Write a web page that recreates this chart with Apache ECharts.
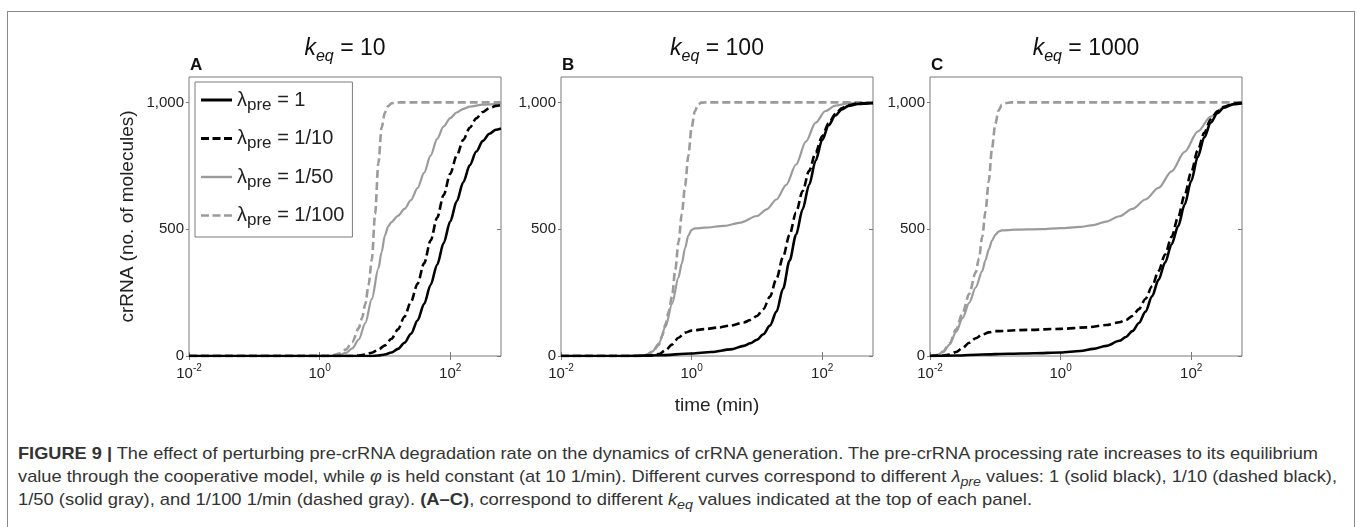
<!DOCTYPE html>
<html>
<head>
<meta charset="utf-8">
<script src="https://cdn.jsdelivr.net/npm/echarts@6/dist/echarts.min.js"></script>
<style>
html, body { margin: 0; padding: 0; background: #fff; }
.frame {
    position: absolute; left: 7px; top: 11px; width: 1348px; height: 540px;
    border: 1.5px solid #8a8a8a; box-sizing: border-box;
}
#chart { position: absolute; left: 0; top: 0; width: 1357px; height: 425px; }
.caption {
    position: absolute; left: 18px; top: 442px;
    font-family: "Liberation Sans Narrow", "Liberation Sans", Arial, sans-serif;
    font-size: 17px; line-height: 23px; color: #333;
}
.caption .ln { display: block; white-space: nowrap; transform-origin: 0 0; width: max-content; }
.caption sub { font-size: 0.78em; line-height: 0; vertical-align: -0.3em; }
</style>
</head>
<body>
<div class="frame"></div>
<div id="chart"></div>
<div class="caption">
    <div class="ln"><b>FIGURE 9 |</b> The effect of perturbing pre-crRNA degradation rate on the dynamics of crRNA generation. The pre-crRNA processing rate increases to its equilibrium</div>
    <div class="ln">value through the cooperative model, while <i>φ</i> is held constant (at 10 1/min). Different curves correspond to different <i>λ<sub>pre</sub></i> values: 1 (solid black), 1/10 (dashed black),</div>
    <div class="ln">1/50 (solid gray), and 1/100 1/min (dashed gray). <b>(A–C)</b>, correspond to different <i>k<sub>eq</sub></i> values indicated at the top of each panel.</div>
</div>

<script>
// axes
const timeTicks = [0.01, 1, 100]
const countTicks = [0, 500, 1000]
const keqLabels = ['10', '100', '1000']
const panelLetters = ['A', 'B', 'C']
const lambdaLabels = ['1', '1/10', '1/50', '1/100']

// [time (min), crRNA molecules]
// panel A, keq = 10
const a_l1 = [[0.01, 0], [6.31, 0], [7.943, 2], [10, 6], [12.59, 14], [15.85, 28], [19.95, 52], [25.12, 88], [31.62, 140], [39.81, 205], [50.12, 280], [63.1, 360], [79.43, 445], [100, 530], [125.9, 610], [158.5, 685], [199.5, 752], [251.2, 806], [316.2, 848], [398.1, 876], [501.2, 892], [600, 897]]
const a_l10 = [[0.01, 0], [3.162, 0], [3.981, 2], [5.012, 6], [6.31, 13], [7.943, 25], [10, 42], [12.59, 68], [15.85, 105], [19.95, 155], [25.12, 215], [31.62, 285], [39.81, 365], [50.12, 455], [63.1, 545], [79.43, 635], [100, 718], [125.9, 790], [158.5, 852], [199.5, 900], [251.2, 937], [316.2, 962], [398.1, 977], [501.2, 986], [600, 990]]
const a_l50 = [[0.01, 0], [1.585, 0], [1.995, 4], [2.512, 12], [3.162, 30], [3.981, 65], [5.012, 130], [6.31, 225], [7.943, 345], [8.913, 410], [10, 475], [11.22, 510], [12.59, 528], [15.85, 553], [19.95, 580], [25.12, 615], [31.62, 662], [39.81, 722], [50.12, 790], [63.1, 856], [79.43, 905], [100, 938], [125.9, 960], [158.5, 974], [199.5, 983], [316.2, 991], [600, 995]]
const a_l100 = [[0.01, 0], [1.259, 0], [1.585, 3], [1.995, 10], [2.512, 25], [3.162, 55], [3.981, 110], [4.467, 150], [5.012, 205], [5.623, 280], [6.31, 380], [7.079, 560], [7.943, 760], [8.913, 900], [10, 960], [11.22, 985], [12.59, 996], [14.13, 999], [17.78, 1000], [600, 1000]]

// panel B, keq = 100
const b_l1 = [[0.01, 0], [0.1, 0], [0.3162, 3], [1, 10], [1.995, 16], [3.981, 26], [6.31, 40], [7.943, 50], [10, 64], [12.59, 86], [15.85, 120], [19.95, 175], [25.12, 265], [31.62, 375], [39.81, 478], [50.12, 578], [63.1, 675], [79.43, 770], [100, 852], [125.9, 910], [158.5, 948], [199.5, 972], [251.2, 986], [354.8, 994], [600, 997]]
const b_l10 = [[0.01, 0], [0.1585, 0], [0.2512, 2], [0.3162, 8], [0.3981, 22], [0.5012, 45], [0.631, 72], [0.7943, 92], [1, 100], [1.585, 106], [2.512, 112], [3.981, 120], [6.31, 132], [7.943, 142], [10, 158], [12.59, 185], [15.85, 234], [19.95, 305], [25.12, 390], [31.62, 478], [39.81, 566], [50.12, 650], [63.1, 730], [79.43, 803], [100, 866], [125.9, 918], [158.5, 954], [199.5, 977], [251.2, 989], [354.8, 996], [600, 998]]
const b_l50 = [[0.01, 0], [0.1585, 0], [0.1995, 4], [0.2512, 18], [0.3162, 50], [0.3981, 115], [0.5012, 205], [0.631, 310], [0.7079, 365], [0.7943, 425], [0.8913, 475], [1, 497], [1.122, 503], [1.585, 506], [3.162, 513], [5.623, 526], [10, 552], [14.13, 578], [19.95, 617], [28.18, 675], [39.81, 755], [56.23, 845], [79.43, 920], [112.2, 966], [158.5, 987], [251.2, 996], [600, 1000]]
const b_l100 = [[0.01, 0], [0.1585, 0], [0.1995, 4], [0.2512, 15], [0.3162, 45], [0.3548, 80], [0.3981, 125], [0.4467, 175], [0.5012, 235], [0.5623, 340], [0.631, 450], [0.7079, 560], [0.7943, 670], [0.8913, 790], [1, 900], [1.122, 965], [1.259, 992], [1.413, 999], [1.778, 1000], [600, 1000]]

// panel C, keq = 1000
const c_l1 = [[0.01, 0], [0.02512, 2], [0.0631, 6], [0.1585, 9], [0.3981, 11], [1, 14], [1.995, 20], [3.162, 28], [5.012, 40], [7.943, 60], [10, 75], [12.59, 98], [15.85, 130], [19.95, 175], [25.12, 235], [31.62, 300], [39.81, 368], [50.12, 440], [63.1, 512], [79.43, 597], [100, 690], [125.9, 785], [158.5, 862], [199.5, 920], [251.2, 957], [316.2, 979], [446.7, 993], [600, 997]]
const c_l10 = [[0.01, 0], [0.01585, 2], [0.01995, 6], [0.02512, 16], [0.03162, 32], [0.03981, 52], [0.05012, 70], [0.0631, 84], [0.07943, 93], [0.1, 98], [0.3162, 103], [1, 107], [2.512, 113], [5.012, 122], [7.943, 133], [10, 142], [12.59, 158], [15.85, 185], [19.95, 225], [25.12, 275], [31.62, 335], [39.81, 400], [50.12, 470], [63.1, 548], [79.43, 635], [100, 725], [125.9, 810], [158.5, 880], [199.5, 933], [251.2, 965], [316.2, 983], [446.7, 995], [600, 998]]
const c_l50 = [[0.01, 0], [0.01259, 3], [0.01585, 15], [0.01995, 45], [0.02512, 95], [0.03162, 150], [0.03981, 210], [0.05012, 270], [0.0631, 335], [0.07079, 378], [0.07943, 420], [0.08913, 455], [0.1, 478], [0.1122, 490], [0.1259, 495], [0.1995, 498], [0.5012, 500], [1, 504], [1.995, 509], [3.162, 516], [5.012, 530], [7.943, 551], [12.59, 580], [19.95, 617], [31.62, 663], [50.12, 728], [79.43, 805], [125.9, 885], [199.5, 944], [316.2, 980], [446.7, 993], [600, 999]]
const c_l100 = [[0.01, 0], [0.01259, 4], [0.01585, 18], [0.01995, 50], [0.02512, 105], [0.03162, 170], [0.03981, 245], [0.05012, 330], [0.05623, 385], [0.0631, 470], [0.07079, 570], [0.07943, 690], [0.08913, 820], [0.1, 915], [0.1122, 968], [0.1259, 990], [0.1413, 997], [0.1778, 1000], [600, 1000]]

const panelData = [
    [a_l1, a_l10, a_l50, a_l100],
    [b_l1, b_l10, b_l50, b_l100],
    [c_l1, c_l10, c_l50, c_l100]
]

const gridLefts = [189, 561, 930]
const gridTop = 77
const gridW = 312
const gridH = 279
const axisColor = '#7a7a7a'
const txtColor = '#222'
const lineStyles = [
    { color: '#000', width: 2.6, type: 'solid' },
    { color: '#000', width: 2.6, type: [8, 4] },
    { color: '#9b9b9b', width: 2.2, type: 'solid' },
    { color: '#9b9b9b', width: 2.6, type: [8, 4] }
]
// legend samples: a bar, or three dashes
const legendIcons = [
    'path://M0,0H31V3H0Z',
    'path://M0,0H8V3H0Z M11.5,0H19.5V3H11.5Z M23,0H31V3H23Z',
    'path://M0,0H31V2.4H0Z',
    'path://M0,0H8V2.6H0Z M11.5,0H19.5V2.6H11.5Z M23,0H31V2.6H23Z'
]
const seriesNames = lambdaLabels.map(l => 'λpre = ' + l)

const chart = echarts.init(document.getElementById('chart'), null, { renderer: 'canvas' })

let grid = [], xAxis = [], yAxis = [], series = [], graphic = []
gridLefts.forEach((left, i) => {
    grid.push({
        left: left, top: gridTop, width: gridW, height: gridH,
        show: true, borderColor: axisColor, borderWidth: 1, backgroundColor: 'transparent'
    })
    xAxis.push({
        gridIndex: i, type: 'log', logBase: 10, min: 0.01, max: 600,
        axisLine: { show: false }, splitLine: { show: false },
        axisTick: { inside: true, length: 4, customValues: timeTicks, lineStyle: { color: axisColor } },
        axisLabel: {
            customValues: timeTicks, margin: 7, color: txtColor,
            formatter: v => '{b|10}{e|' + Math.round(Math.log10(v)) + '}',
            rich: {
                b: { fontSize: 15, fontFamily: 'Liberation Sans', color: txtColor, lineHeight: 22 },
                e: { fontSize: 10, fontFamily: 'Liberation Sans', color: txtColor, lineHeight: 22, verticalAlign: 'top' }
            }
        },
        name: i === 1 ? 'time (min)' : '',
        nameLocation: 'middle', nameGap: 40,
        nameTextStyle: { fontSize: 19, fontFamily: 'Liberation Sans', color: txtColor }
    })
    xAxis.push({
        gridIndex: i, type: 'log', logBase: 10, min: 0.01, max: 600, position: 'top',
        axisLine: { show: false }, splitLine: { show: false }, axisLabel: { show: false },
        axisTick: { inside: true, length: 4, customValues: timeTicks, lineStyle: { color: axisColor } }
    })
    yAxis.push({
        gridIndex: i, type: 'value', min: 0, max: 1100,
        axisLine: { show: false }, splitLine: { show: false },
        axisTick: { inside: false, length: 3, customValues: countTicks, lineStyle: { color: axisColor } },
        axisLabel: {
            customValues: countTicks, margin: 5, fontSize: 15, fontFamily: 'Liberation Sans', color: txtColor,
            formatter: v => v >= 1000 ? '1,000' : String(v)
        },
        name: i === 0 ? 'crRNA (no. of molecules)' : '',
        nameLocation: 'middle', nameGap: 52, nameRotate: 90,
        nameTextStyle: { fontSize: 19, fontFamily: 'Liberation Sans', color: txtColor }
    })
    yAxis.push({
        gridIndex: i, type: 'value', min: 0, max: 1100, position: 'right',
        axisLine: { show: false }, splitLine: { show: false }, axisLabel: { show: false },
        axisTick: { inside: true, length: 4, customValues: countTicks, lineStyle: { color: axisColor } }
    })
    panelData[i].forEach((d, k) => {
        series.push({
            name: seriesNames[k],
            type: 'line',
            xAxisIndex: i * 2, yAxisIndex: i * 2,
            data: d,
            symbol: 'none', showSymbol: false,
            smooth: 0.3, smoothMonotone: 'x',
            lineStyle: lineStyles[k],
            itemStyle: { color: lineStyles[k].color },
            z: 10 - k
        })
    })
    // panel title  k_eq = ...
    graphic.push({
        type: 'text', x: left + gridW / 2, y: 33,
        style: {
            text: '{k|k}{s|eq}{n| = ' + keqLabels[i] + '}',
            align: 'center', verticalAlign: 'top',
            rich: {
                k: { fontSize: 23, fontStyle: 'italic', fontFamily: 'Liberation Sans', fill: '#111', lineHeight: 32 },
                s: { fontSize: 16, fontStyle: 'italic', fontFamily: 'Liberation Sans', fill: '#111', lineHeight: 32, verticalAlign: 'bottom' },
                n: { fontSize: 23, fontFamily: 'Liberation Sans', fill: '#111', lineHeight: 32 }
            }
        }
    })
    graphic.push({
        type: 'text', x: left + 1, y: 57,
        style: { text: panelLetters[i], fontSize: 17, fontWeight: 'bold', fontFamily: 'Liberation Sans', fill: '#111' }
    })
})

const option = {
    animation: false,
    backgroundColor: 'transparent',
    grid: grid,
    xAxis: xAxis,
    yAxis: yAxis,
    legend: {
        data: seriesNames.map((n, k) => ({ name: n, icon: legendIcons[k] })),
        orient: 'vertical',
        left: 195, top: 82,
        padding: [8, 8, 8, 6],
        itemWidth: 31, itemHeight: 14, itemGap: 15,
        borderColor: axisColor, borderWidth: 1, borderRadius: 0,
        backgroundColor: '#fff',
        selectedMode: false,
        formatter: name => '{l|λ}{s|pre}{l|' + name.slice(4) + '}',
        textStyle: {
            color: txtColor,
            rich: {
                l: { fontSize: 20, fontFamily: 'Liberation Sans', color: txtColor, lineHeight: 27 },
                s: { fontSize: 17, fontFamily: 'Liberation Sans', color: txtColor, lineHeight: 27, verticalAlign: 'bottom' }
            }
        }
    },
    graphic: graphic,
    series: series
}
chart.setOption(option)

// squeeze caption lines to the widths of the printed caption
const captionWidths = [1300, 1319, 1014]
document.querySelectorAll('.caption .ln').forEach((el, i) => {
    const w = el.getBoundingClientRect().width
    el.style.transform = 'scaleX(' + (captionWidths[i] / w) + ')'
})
</script>
</body>
</html>
